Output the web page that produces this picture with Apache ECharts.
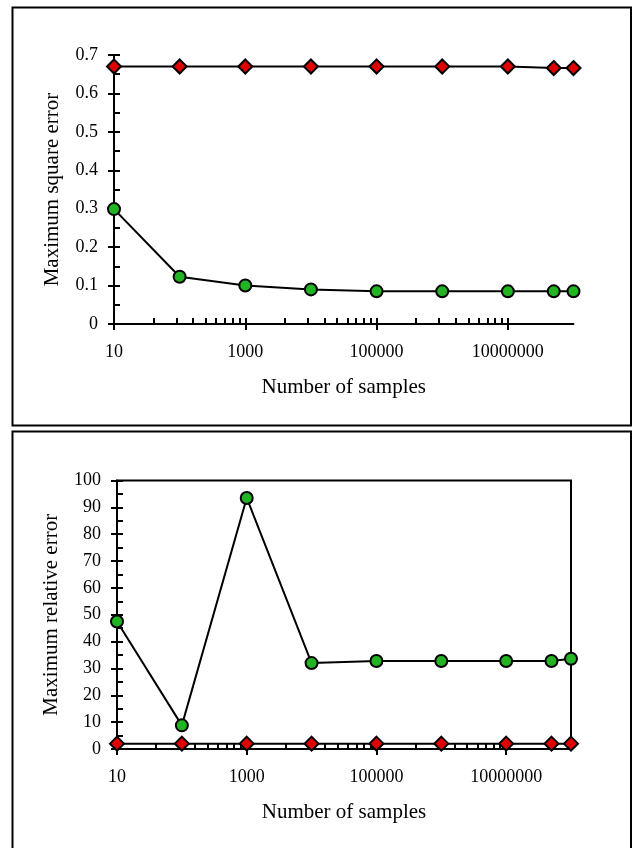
<!DOCTYPE html>
<html>
<head>
<meta charset="utf-8">
<script src="https://cdn.jsdelivr.net/npm/echarts@6/dist/echarts.min.js"></script>
<style>
  html, body { margin: 0; padding: 0; background: #fff; }
  #chart { width: 632px; height: 848px; }
</style>
</head>
<body>
<div id="chart"></div>
<script>
// sample counts (x, log scale)
var sampleCounts = [10, 100, 1000, 10000, 100000, 1000000, 10000000, 50000000, 100000000];

// top panel: maximum square error
var squareErrCircle = [0.299, 0.123, 0.100, 0.090, 0.085, 0.085, 0.085, 0.085, 0.085];
var squareErrDiamond = [0.670, 0.670, 0.670, 0.670, 0.670, 0.670, 0.670, 0.666, 0.666];

// bottom panel: maximum relative error
var relErrCircle = [47.5, 8.8, 93.5, 32.0, 32.8, 32.8, 32.8, 32.8, 33.6];
var relErrDiamond = [2, 2, 2, 2, 2, 2, 2, 2, 2];

// tick labels and tick marks on the x axis
var xLabelTicks = [10, 1000, 100000, 10000000];
var xMinorTicks = [40, 90, 160, 250, 360, 490, 640, 810,
                   4000, 9000, 16000, 25000, 36000, 49000, 64000, 81000,
                   400000, 900000, 1600000, 2500000, 3600000, 4900000, 6400000, 8100000];

var FONT = 'Liberation Serif';
var labelFont = { color: '#000', fontFamily: FONT, fontSize: 18 };
var nameFont = { color: '#000', fontFamily: FONT, fontSize: 21 };

function mainX(grid) {
    return {
        type: 'log', gridIndex: grid, position: 'bottom', min: 10, max: 100000000, logBase: 10,
        name: 'Number of samples', nameLocation: 'middle', nameGap: 53, nameTextStyle: nameFont,
        axisLine: { show: true, onZero: false, lineStyle: { color: '#000', width: 2 } },
        axisTick: { show: true, inside: false, length: 6, customValues: xLabelTicks, lineStyle: { color: '#000', width: 2 } },
        axisLabel: Object.assign({ margin: 19, customValues: xLabelTicks,
            formatter: function (v) { return String(Math.round(v)); } }, labelFont),
        splitLine: { show: false }, minorTick: { show: false }
    };
}
function innerX(grid) {
    return {
        type: 'log', gridIndex: grid, position: 'bottom', min: 10, max: 100000000, logBase: 10,
        axisLine: { show: false, onZero: false },
        axisTick: { show: true, inside: true, length: 6, customValues: xLabelTicks.concat(xMinorTicks), lineStyle: { color: '#000', width: 2 } },
        axisLabel: { show: false },
        splitLine: { show: false }
    };
}
function mainY(grid, max, step, name, gap) {
    return {
        type: 'value', gridIndex: grid, position: 'left', min: 0, max: max, interval: step,
        name: name, nameLocation: 'middle', nameGap: gap, nameTextStyle: nameFont,
        axisLine: { show: true, onZero: false, lineStyle: { color: '#000', width: 2 } },
        axisTick: { show: true, inside: false, length: 6, lineStyle: { color: '#000', width: 2 } },
        axisLabel: Object.assign({ margin: 16 }, labelFont),
        splitLine: { show: false }
    };
}
function innerY(grid, max, step) {
    return {
        type: 'value', gridIndex: grid, position: 'left', min: 0, max: max, interval: step,
        axisLine: { show: false, onZero: false },
        axisTick: { show: true, inside: true, length: 6, lineStyle: { color: '#000', width: 2 } },
        axisLabel: { show: false },
        splitLine: { show: false }
    };
}
function pairs(ys) {
    return sampleCounts.map(function (x, i) { return [x, ys[i]]; });
}
function line(xi, yi, ys, symbol, size, fill) {
    return {
        type: 'line', xAxisIndex: xi, yAxisIndex: yi, data: pairs(ys),
        symbol: symbol, symbolSize: size, showSymbol: true,
        lineStyle: { color: '#000', width: 2 },
        itemStyle: { color: fill, borderColor: '#000', borderWidth: 2 },
        animation: false, silent: true
    };
}

var myChart = echarts.init(document.getElementById('chart'));
myChart.setOption({
    backgroundColor: '#fff',
    animation: false,
    graphic: [
        { type: 'rect', shape: { x: 12.5, y: 7.5, width: 618.5, height: 418 },
          style: { fill: 'none', stroke: '#000', lineWidth: 2 } },
        { type: 'rect', shape: { x: 12.5, y: 431.5, width: 618.5, height: 420 },
          style: { fill: 'none', stroke: '#000', lineWidth: 2 } }
    ],
    grid: [
        { left: 114, top: 55, width: 459.5, height: 269, outerBoundsMode: 'none', containLabel: false },
        { left: 117, top: 480.5, width: 454, height: 268.5, outerBoundsMode: 'none', containLabel: false,
          show: true, borderColor: '#000', borderWidth: 2, backgroundColor: 'transparent' }
    ],
    xAxis: [mainX(0), innerX(0), mainX(1), innerX(1)],
    yAxis: [
        mainY(0, 0.7, 0.1, 'Maximum square error', 51),
        innerY(0, 0.7, 0.05),
        mainY(1, 100, 10, 'Maximum relative error', 55),
        innerY(1, 100, 5)
    ],
    series: [
        line(0, 0, squareErrDiamond, 'diamond', [14, 14], '#e00000'),
        line(0, 0, squareErrCircle, 'circle', 12, '#22b422'),
        line(2, 2, relErrDiamond, 'diamond', [14, 14], '#e00000'),
        line(2, 2, relErrCircle, 'circle', 12, '#22b422')
    ]
});
</script>
</body>
</html>
